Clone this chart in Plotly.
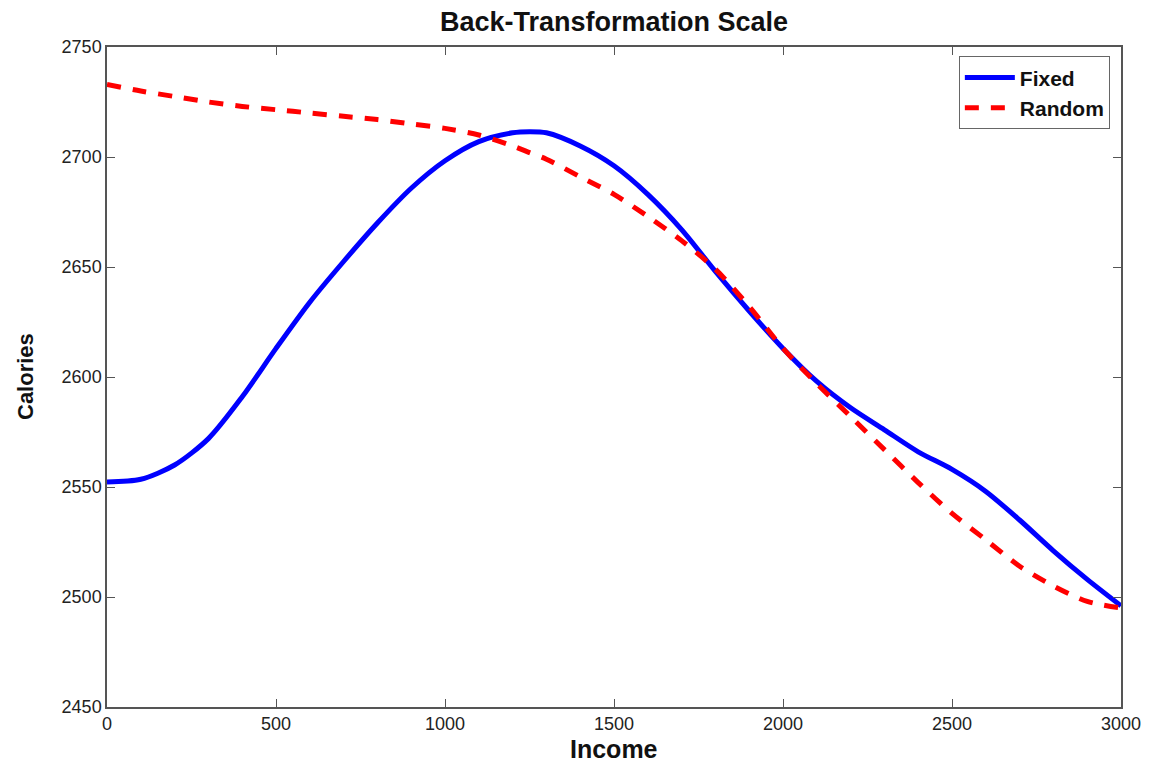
import plotly.graph_objects as go

income = [0, 100, 200, 300, 400, 500, 600, 700, 800, 900, 1000, 1100, 1200, 1250, 1300,
          1400, 1500, 1600, 1700, 1800, 1900, 2000, 2100, 2200, 2300, 2400, 2500,
          2600, 2700, 2800, 2900, 3000]

fixed = [2552.3, 2553.5, 2560, 2572, 2591, 2613, 2634, 2652.5, 2670, 2685.8, 2698.3, 2707, 2711, 2711.5, 2711,
         2705, 2696, 2683, 2667, 2648, 2630, 2613, 2598, 2586, 2576, 2566, 2558,
         2548, 2535, 2521, 2508, 2496]

random_ = [2733, 2730, 2727.5, 2725, 2723, 2721.5, 2720, 2718.5, 2717, 2715, 2713, 2710, 2705, 2702, 2699,
           2691, 2683, 2673, 2662, 2649, 2632, 2613, 2597, 2582, 2567, 2552, 2538,
           2526, 2514, 2505, 2498, 2495]

x_ticks = [0, 500, 1000, 1500, 2000, 2500, 3000]
y_ticks = [2450, 2500, 2550, 2600, 2650, 2700, 2750]

FONT = "Liberation Sans, Arial, Helvetica, sans-serif"

# page body adds an 8px offset
W, H = 1145, 755
L, T = 99, 39
PW, PH = 1014, 660
R, B = W - L - PW, H - T - PH

fig = go.Figure()
fig.add_trace(go.Scatter(x=income, y=fixed, mode="lines", name="<b>Fixed</b>",
                         line=dict(color="#0000ff", width=5, shape="spline", smoothing=0.8)))
fig.add_trace(go.Scatter(x=income, y=random_, mode="lines", name="<b>Random</b>",
                         line=dict(color="#ff0000", width=5, dash="14px,12px", shape="spline", smoothing=0.8)))

axis_common = dict(showline=True, linecolor="#555555", linewidth=1.5, mirror="ticks",
                   ticks="inside", ticklen=8, tickcolor="#555555", tickwidth=1.2,
                   showgrid=False, zeroline=False, automargin=False,
                   tickfont=dict(family=FONT, size=18, color="#222222"))

fig.update_layout(
    width=W, height=H,
    margin=dict(l=L, r=R, t=T, b=B),
    paper_bgcolor="white", plot_bgcolor="white",
    title=dict(text="<b>Back-Transformation Scale</b>", x=(L + PW / 2) / W, xanchor="center",
               y=1 - 14 / H, yanchor="middle",
               font=dict(family=FONT, size=27, color="#111111")),
    xaxis=dict(range=[0, 3000], tickvals=x_ticks, **axis_common),
    yaxis=dict(range=[2450, 2750], tickvals=y_ticks, **axis_common),
    legend=dict(x=0.989, y=0.986, xanchor="right", yanchor="top",
                bgcolor="white", bordercolor="#666666", borderwidth=1,
                font=dict(family=FONT, size=21, color="#111111"),
                tracegroupgap=0, itemwidth=50),
    showlegend=True,
    annotations=[
        dict(text="<b>Income</b>", xref="paper", yref="paper", x=0.5, y=0,
             xanchor="center", yanchor="middle", yshift=-42, showarrow=False, borderpad=0,
             font=dict(family=FONT, size=25, color="#111111")),
        dict(text="<b>Calories</b>", xref="paper", yref="paper", x=0, y=0.5,
             xanchor="center", yanchor="middle", xshift=-82, textangle=-90, showarrow=False,
             font=dict(family=FONT, size=22, color="#111111")),
    ],
)

fig.write_html("out.html")
